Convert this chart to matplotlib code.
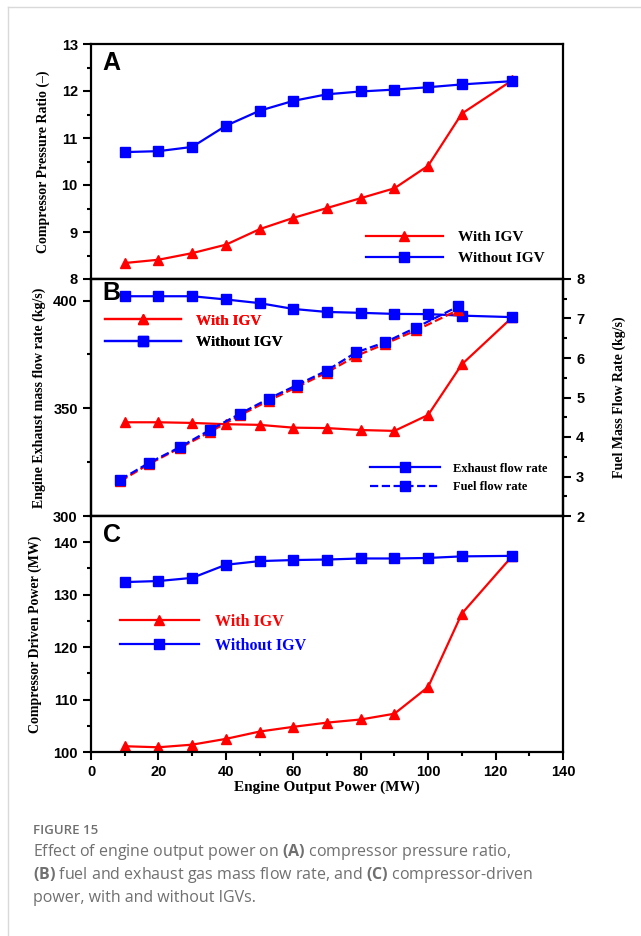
import matplotlib
matplotlib.use("Agg")
import matplotlib.pyplot as plt
from matplotlib.lines import Line2D
from matplotlib.ticker import MultipleLocator
from matplotlib.font_manager import FontProperties

plt.rcParams["mathtext.fontset"] = "custom"
plt.rcParams["mathtext.bf"] = "Open Sans:bold"
plt.rcParams["mathtext.rm"] = "Open Sans"

# engine output power (MW)
power = [10, 20, 30, 40, 50, 60, 70, 80, 90, 100, 110, 125]
power_fuel = [8.7, 17.3, 26.3, 35.3, 44.2, 52.7, 61.2, 69.9, 78.6, 87.3, 96.4, 109.0]

# (A) compressor pressure ratio
pr_with = [8.34, 8.41, 8.55, 8.73, 9.06, 9.30, 9.51, 9.72, 9.93, 10.41, 11.52, 12.23]
pr_without = [10.70, 10.72, 10.81, 11.26, 11.58, 11.79, 11.93, 11.99, 12.03, 12.08, 12.14, 12.21]

# (B) exhaust mass flow (kg/s) and fuel mass flow (kg/s)
exh_with = [343.5, 343.5, 343.2, 342.6, 342.3, 341.0, 340.8, 339.9, 339.5, 346.9, 370.4, 392.3]
exh_without = [402.0, 402.0, 402.0, 400.5, 398.8, 396.1, 394.7, 394.3, 393.8, 393.7, 393.0, 392.3]
fuel_with = [2.88, 3.32, 3.72, 4.13, 4.55, 4.92, 5.27, 5.63, 6.05, 6.36, 6.70, 7.22]
fuel_without = [2.92, 3.35, 3.74, 4.18, 4.59, 4.97, 5.32, 5.68, 6.14, 6.40, 6.77, 7.31]

# (C) compressor driven power (MW)
cp_with = [101.1, 100.9, 101.4, 102.5, 103.9, 104.8, 105.6, 106.2, 107.3, 112.4, 126.4, 137.4]
cp_without = [132.4, 132.6, 133.2, 135.7, 136.4, 136.6, 136.7, 136.9, 136.9, 137.0, 137.3, 137.4]

RED = "#ff0000"
BLUE = "#0000ff"
serif = {"family": "Liberation Serif", "weight": "bold"}
sans = {"family": "Liberation Sans", "weight": "bold"}

fig = plt.figure(figsize=(6.41, 9.36), dpi=100)
L, W = 91 / 641, 472 / 641
axA = fig.add_axes([L, 1 - 279 / 936, W, 235 / 936])
axB = fig.add_axes([L, 1 - 516 / 936, W, 237 / 936])
axC = fig.add_axes([L, 1 - 752 / 936, W, 236 / 936])

mk = dict(markersize=7, linewidth=1.6)


def style(ax, ylim, major, minor):
    ax.set_xlim(0, 140)
    ax.set_ylim(*ylim)
    ax.yaxis.set_major_locator(MultipleLocator(major))
    ax.yaxis.set_minor_locator(MultipleLocator(minor))
    ax.xaxis.set_major_locator(MultipleLocator(20))
    ax.xaxis.set_minor_locator(MultipleLocator(10))
    for s in ax.spines.values():
        s.set_linewidth(1.6)
    ax.tick_params(axis="both", which="major", direction="out", length=6, width=1.5,
                   top=False, right=False)
    ax.tick_params(axis="both", which="minor", direction="out", length=3, width=1.5,
                   top=False, right=False)
    for t in ax.get_yticklabels():
        t.set_fontproperties(FontProperties(**sans, size=10.5))


# ---- A
axA.plot(power, pr_with, color=RED, marker="^", label="With IGV", **mk)
axA.plot(power, pr_without, color=BLUE, marker="s", label="Without IGV", **mk)
style(axA, (8, 13), 1, 0.5)
axA.tick_params(axis="x", which="both", bottom=False, labelbottom=False)
axA.set_ylabel("Compressor Pressure Ratio (\u2013)", fontdict=dict(**serif, size=10), labelpad=8)
axA.text(0.025, 0.97, "A", transform=axA.transAxes, ha="left", va="top",
         fontdict=dict(**sans, size=18))
axA.legend(loc="lower right", frameon=False, prop=dict(**serif, size=11),
           handlelength=5.0, handletextpad=1.0, bbox_to_anchor=(0.99, 0.0))

# ---- B
axB.plot(power, exh_with, color=RED, marker="^", **mk)
axB.plot(power, exh_without, color=BLUE, marker="s", **mk)
style(axB, (300, 410), 50, 25)
axB.tick_params(axis="x", which="both", bottom=False, labelbottom=False)
axB.set_ylabel("Engine Exhaust mass flow rate (kg/s)", fontdict=dict(**serif, size=10), labelpad=5)
axB.text(0.025, 0.99, "B", transform=axB.transAxes, ha="left", va="top",
         fontdict=dict(**sans, size=18))

axB2 = axB.twinx()
axB2.plot(power_fuel, fuel_with, color=RED, marker="^", linestyle="--", **mk)
axB2.plot(power_fuel, fuel_without, color=BLUE, marker="s", linestyle="--", **mk)
axB2.set_ylim(2, 8)
axB2.yaxis.set_major_locator(MultipleLocator(1))
axB2.yaxis.set_minor_locator(MultipleLocator(0.5))
axB2.tick_params(axis="y", which="major", direction="out", length=6, width=1.5)
axB2.tick_params(axis="y", which="minor", direction="out", length=3, width=1.5)
for t in axB2.get_yticklabels():
    t.set_fontproperties(FontProperties(**sans, size=10.5))
axB2.set_ylabel("Fuel Mass Flow Rate (kg/s)", fontdict=dict(**serif, size=10), labelpad=20)
for s in axB2.spines.values():
    s.set_linewidth(1.6)

h1 = [Line2D([], [], color=RED, marker="^", **mk),
      Line2D([], [], color=BLUE, marker="s", **mk)]
leg1 = axB.legend(h1, ["With IGV", "Without IGV"], loc="upper left", frameon=False,
                  prop=dict(**serif, size=11), handlelength=5.0, handletextpad=1.0,
                  bbox_to_anchor=(0.0, 0.91))
leg1.get_texts()[0].set_color(RED)
axB.add_artist(leg1)
h2 = [Line2D([], [], color=BLUE, marker="s", **mk),
      Line2D([], [], color=BLUE, marker="s", linestyle="--", **mk)]
axB2.legend(h2, ["Exhaust flow rate", "Fuel flow rate"], loc="lower right", frameon=False,
            prop=dict(**serif, size=9), handlelength=5.6, handletextpad=1.0,
            bbox_to_anchor=(0.99, 0.05))

# ---- C
axC.plot(power, cp_with, color=RED, marker="^", label="With IGV", **mk)
axC.plot(power, cp_without, color=BLUE, marker="s", label="Without IGV", **mk)
style(axC, (100, 145), 10, 5)
for t in axC.get_xticklabels():
    t.set_fontproperties(FontProperties(**sans, size=10.5))
axC.set_xlabel("Engine Output Power (MW)", fontdict=dict(**serif, size=11), labelpad=1)
axC.set_ylabel("Compressor Driven Power (MW)", fontdict=dict(**serif, size=10), labelpad=8)
axC.text(0.025, 0.97, "C", transform=axC.transAxes, ha="left", va="top",
         fontdict=dict(**sans, size=18))
legC = axC.legend(loc="center left", frameon=False, prop=dict(**serif, size=11.5),
                  handlelength=5.0, handletextpad=1.0, bbox_to_anchor=(0.03, 0.5))
legC.get_texts()[0].set_color(RED)
legC.get_texts()[1].set_color(BLUE)

# frame lines and caption
fig.add_artist(Line2D([8 / 641, 8 / 641], [0, 1 - 7 / 936], color="#d9d9d9", linewidth=1))
fig.add_artist(Line2D([8 / 641, 1], [1 - 7 / 936, 1 - 7 / 936], color="#d9d9d9", linewidth=1))

cap = dict(family="Open Sans", color="#707070")
fig.text(33 / 641, 1 - 831 / 936, "FIGURE 15", fontsize=9.5, fontweight="semibold", va="center", **cap)
fig.text(33 / 641, 1 - 852 / 936, r"Effect of engine output power on $\bf{(A)}$ compressor pressure ratio,",
         fontsize=11.5, va="center", **cap)
fig.text(33 / 641, 1 - 875 / 936, r"$\bf{(B)}$ fuel and exhaust gas mass flow rate, and $\bf{(C)}$ compressor-driven",
         fontsize=11.5, va="center", **cap)
fig.text(33 / 641, 1 - 898 / 936, "power, with and without IGVs.", fontsize=11.5, va="center", **cap)

fig.savefig("out.png", dpi=100)
